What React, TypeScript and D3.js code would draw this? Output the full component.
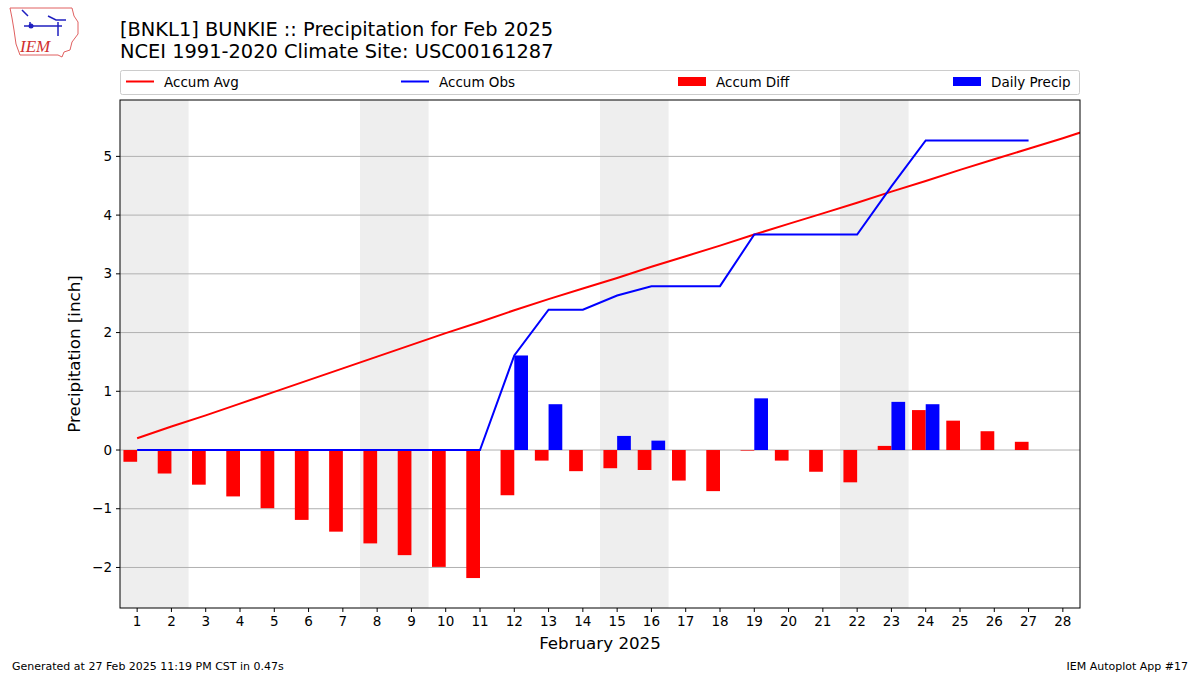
import React from "react";
import * as d3 from "d3";

const days = d3.range(1, 29);
const avgDays = d3.range(1, 30);
const accumAvg = [0.20,0.40,0.59,0.79,0.99,1.19,1.39,1.59,1.79,1.99,2.18,2.38,2.57,2.75,2.93,3.12,3.30,3.48,3.67,3.85,4.03,4.21,4.40,4.58,4.77,4.95,5.13,5.31,5.50];
const obsDays = d3.range(1, 28);
const accumObs = [0,0,0,0,0,0,0,0,0,0,0,1.61,2.39,2.39,2.63,2.79,2.79,2.79,3.67,3.67,3.67,3.67,4.49,5.27,5.27,5.27,5.27];
const accumDiff = [-0.20,-0.40,-0.59,-0.79,-0.99,-1.19,-1.39,-1.59,-1.79,-1.99,-2.18,-0.77,-0.18,-0.36,-0.31,-0.34,-0.52,-0.70,-0.01,-0.18,-0.37,-0.55,0.07,0.68,0.50,0.32,0.14];
const dailyPrecip = [0,0,0,0,0,0,0,0,0,0,0,1.61,0.78,0,0.24,0.16,0,0,0.88,0,0,0,0.82,0.78,0,0,0];
const weekendStarts = [1, 8, 15, 22];
const yTicks = [-2, -1, 0, 1, 2, 3, 4, 5];

const W = 1200, H = 675;
const L = 120, R = 1080, T = 100, B = 608;
const FONT = "DejaVu Sans, sans-serif";

export default function App() {
  const x = d3.scaleLinear().domain([0.5, 28.5]).range([L, R]);
  const y = d3.scaleLinear().domain([-2.69, 5.96]).range([B, T]);
  const bw = x(0.4) - x(0);
  const avgLine = d3.line<number>().x((_, i) => x(avgDays[i])).y((v) => y(v))(accumAvg) || "";
  const obsLine = d3.line<number>().x((_, i) => x(obsDays[i])).y((v) => y(v))(accumObs) || "";
  const fmt = (v: number) => (v < 0 ? "\u2212" + Math.abs(v) : String(v));
  const legendItems = [
    { label: "Accum Avg", color: "red", kind: "line", x0: 126 },
    { label: "Accum Obs", color: "blue", kind: "line", x0: 401 },
    { label: "Accum Diff", color: "red", kind: "patch", x0: 678 },
    { label: "Daily Precip", color: "blue", kind: "patch", x0: 953 },
  ];
  return (
    <svg width={W} height={H} style={{ position: "fixed", left: 0, top: 0, background: "white" }} fontFamily={FONT}>
      <defs>
        <clipPath id="plotclip">
          <rect x={L} y={T} width={R - L} height={B - T} />
        </clipPath>
      </defs>
      {/* logo */}
      <g>
        <path d="M10,8 L72,8 L74,16 L78,22 L78,34 L72,42 L70,50 L64,52 L62,57 L58,55 L20,55 L16,44 L14,30 L12,18 Z" fill="white" stroke="#e06060" strokeWidth={1} />
        <path d="M22,10 L28,16 M30,22 L30,28 M24,26 L62,26 M48,16 L56,20 L66,20 M58,22 L58,36" stroke="#2020c0" strokeWidth={1.5} fill="none" />
        <circle cx={31} cy={26} r={2.5} fill="#2020c0" />
        <text x={20} y={52} fontFamily="Liberation Serif, serif" fontStyle="italic" fontSize={17} fill="#d03030">IEM</text>
      </g>
      {/* titles */}
      <text x={120} y={36} fontSize={19.4} fill="black">[BNKL1] BUNKIE :: Precipitation for Feb 2025</text>
      <text x={120} y={58} fontSize={19.4} fill="black">NCEI 1991-2020 Climate Site: USC00161287</text>
      {/* legend */}
      <rect x={120.5} y={70.5} width={959} height={24} rx={2} fill="white" stroke="#cccccc" />
      {legendItems.map((it) => (
        <g key={it.label}>
          {it.kind === "line" ? (
            <line x1={it.x0} x2={it.x0 + 28} y1={81.5} y2={81.5} stroke={it.color} strokeWidth={2} />
          ) : (
            <rect x={it.x0} y={77} width={28} height={9} fill={it.color} />
          )}
          <text x={it.x0 + 38} y={86.5} fontSize={13.5} fill="black">{it.label}</text>
        </g>
      ))}
      {/* weekend shading */}
      {weekendStarts.map((d) => (
        <rect key={d} x={x(d - 0.5)} y={T} width={x(d + 1.5) - x(d - 0.5)} height={B - T} fill="#eeeeee" />
      ))}
      {/* grid */}
      {yTicks.map((t) => (
        <line key={t} x1={L} x2={R} y1={y(t)} y2={y(t)} stroke="#b0b0b0" strokeWidth={1} />
      ))}
      <g clipPath="url(#plotclip)">
        {accumDiff.map((v, i) => (
          <rect key={"d" + i} x={x(obsDays[i]) - bw} y={y(Math.max(0, v))} width={bw} height={Math.abs(y(v) - y(0))} fill="red" />
        ))}
        {dailyPrecip.map((v, i) =>
          v > 0 ? (
            <rect key={"p" + i} x={x(obsDays[i])} y={y(v)} width={bw} height={y(0) - y(v)} fill="blue" />
          ) : null
        )}
        <path d={avgLine} fill="none" stroke="red" strokeWidth={2} />
        <path d={obsLine} fill="none" stroke="blue" strokeWidth={2} />
      </g>
      {/* frame */}
      <rect x={L} y={T} width={R - L} height={B - T} fill="none" stroke="black" strokeWidth={1} />
      {/* y axis */}
      {yTicks.map((t) => (
        <g key={"yt" + t}>
          <line x1={L - 4} x2={L} y1={y(t)} y2={y(t)} stroke="black" />
          <text x={L - 8} y={y(t) + 4.5} fontSize={13.5} textAnchor="end" fill="black">{fmt(t)}</text>
        </g>
      ))}
      {/* x axis */}
      {days.map((d) => (
        <g key={"xt" + d}>
          <line x1={x(d)} x2={x(d)} y1={B} y2={B + 4} stroke="black" />
          <text x={x(d)} y={B + 18} fontSize={13.5} textAnchor="middle" fill="black">{d}</text>
        </g>
      ))}
      <text x={(L + R) / 2} y={649} fontSize={16.7} textAnchor="middle" fill="black">February 2025</text>
      <text transform={`translate(80,${(T + B) / 2}) rotate(-90)`} fontSize={16.7} textAnchor="middle" fill="black">Precipitation [inch]</text>
      {/* footer */}
      <text x={12} y={670} fontSize={11} fill="black">Generated at 27 Feb 2025 11:19 PM CST in 0.47s</text>
      <text x={1188} y={670} fontSize={11} textAnchor="end" fill="black">IEM Autoplot App #17</text>
    </svg>
  );
}
